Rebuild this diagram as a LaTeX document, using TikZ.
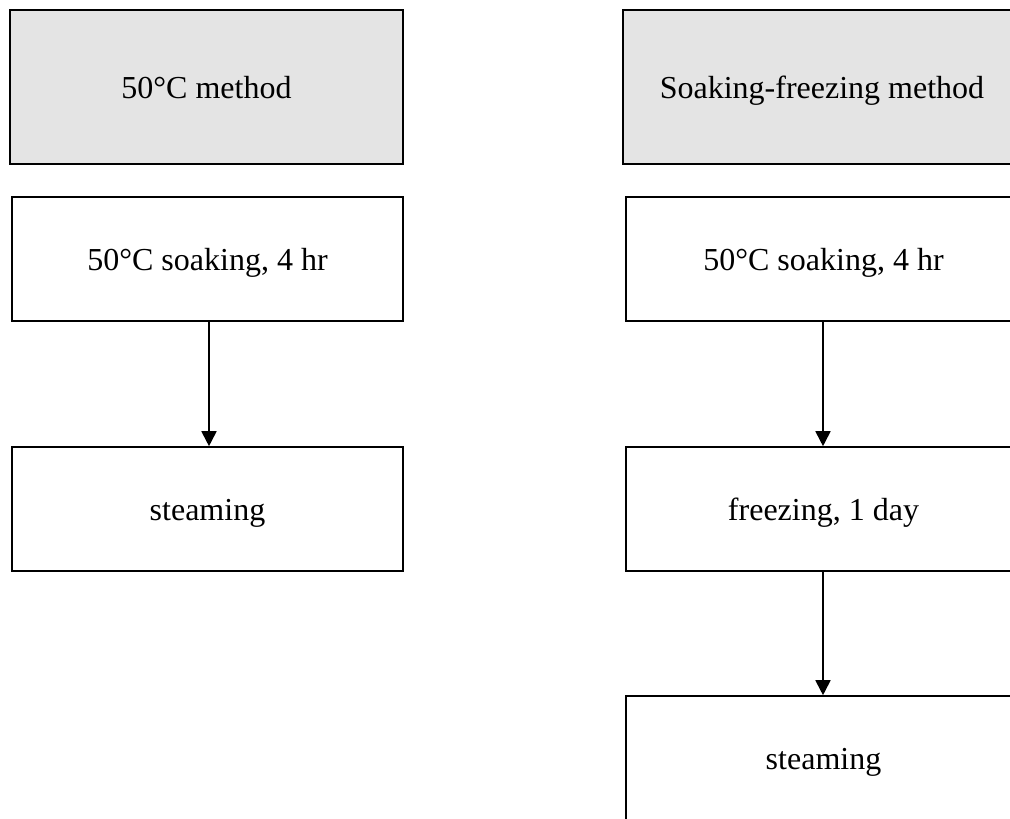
\documentclass[tikz,border=0pt]{standalone}
\usepackage{fontspec}
\setmainfont{Liberation Serif}
\usetikzlibrary{arrows.meta}
\definecolor{hdrgray}{HTML}{E4E4E4}
\tikzset{
  box/.style={draw=black, line width=1.6pt, inner sep=0pt, minimum width=392pt, minimum height=124pt, font=\fontsize{32}{38}\selectfont, text height=22pt, text depth=0pt, anchor=center},
  hdr/.style={box, fill=hdrgray, minimum height=154pt},
  flow/.style={line width=1.8pt, -{Triangle[width=15pt,length=15pt]}}
}
\begin{document}
\begin{tikzpicture}[x=1pt,y=-1pt]
\useasboundingbox (0,0) rectangle (1010,819);
\clip (0,0) rectangle (1010,819);
\fill[white] (0,0) rectangle (1010,819);
% left column
\node[hdr, minimum width=393pt] (lh) at (206.5,87) {50°C method};
\node[box, minimum width=391pt] (l1) at (207.5,259) {50°C soaking, 4 hr};
\node[box, minimum width=391pt] (l2) at (207.5,509) {steaming};
% right column
\node[hdr, minimum width=398pt] (rh) at (822,87) {Soaking-freezing method};
\node[box, minimum width=395pt] (r1) at (823.5,259) {50°C soaking, 4 hr};
\node[box, minimum width=395pt] (r2) at (823.5,509) {freezing, 1 day};
\node[box, minimum width=395pt] (r3) at (823.5,758) {steaming};
% arrows
\draw[flow] (l1.south -| 209,0) -- (l2.north -| 209,0);
\draw[flow] (r1.south -| 823,0) -- (r2.north -| 823,0);
\draw[flow] (r2.south -| 823,0) -- (r3.north -| 823,0);
\end{tikzpicture}
\end{document}
